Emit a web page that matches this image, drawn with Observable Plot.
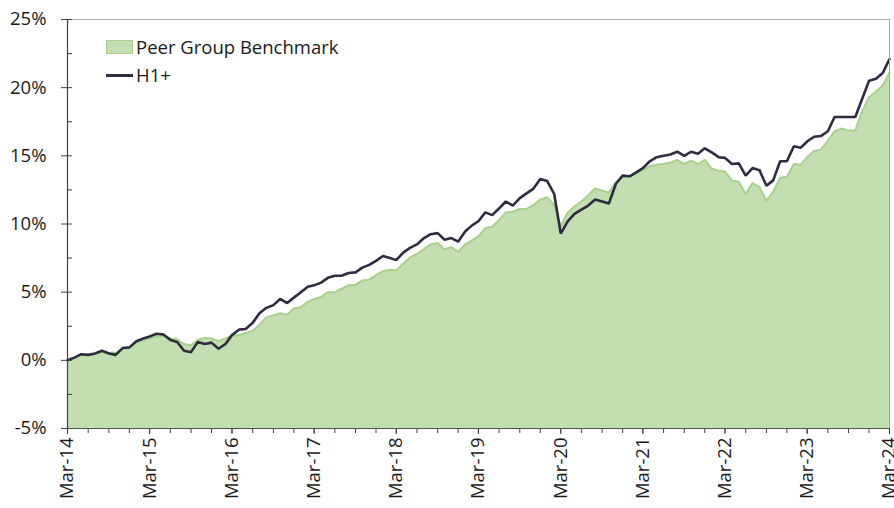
<!DOCTYPE html>
<html>
<head>
<meta charset="utf-8">
<script src="https://cdn.jsdelivr.net/npm/d3@7"></script>
<script src="https://cdn.jsdelivr.net/npm/@observablehq/plot@0.6"></script>
<style>
  html, body { margin: 0; padding: 0; background: #fff; }
  #wrap { position: relative; width: 894px; height: 508px; font-family: "Open Sans", sans-serif; color: #1a1a1a; }
  #legend { position: absolute; left: 106px; top: 33px; font-size: 18.5px; line-height: 28px; }
  .item { display: flex; align-items: center; white-space: nowrap; }
  .sw-area { width: 25px; height: 12px; background: #c3deb0; border: 1px solid #a9d18e; margin-right: 3px; }
  .sw-line { width: 27px; height: 3px; background: #2e2d3f; margin-right: 3px; }
</style>
</head>
<body>
<div id="wrap">
  <div id="chart"></div>
  <div id="legend">
    <div class="item"><span class="sw-area"></span><span id="lab1"></span></div>
    <div class="item"><span class="sw-line"></span><span id="lab2"></span></div>
  </div>
</div>
<script>
const seriesNames = ["Peer Group Benchmark", "H1+"];
const startMonth = new Date(Date.UTC(2014, 2, 1)); // Mar-14
const endMonth = new Date(Date.UTC(2024, 2, 1));   // Mar-24

// H1+ cumulative return (%), monthly Mar-14 .. Mar-24
const h1 = [
  0.0, 0.2, 0.45, 0.4, 0.5, 0.7, 0.5, 0.4, 0.9, 0.95, 1.4, 1.6,
  1.75, 1.95, 1.9, 1.5, 1.35, 0.7, 0.6, 1.35, 1.2, 1.3, 0.85, 1.2,
  1.85, 2.25, 2.3, 2.75, 3.45, 3.85, 4.05, 4.5, 4.2, 4.6, 5.0, 5.4,
  5.5, 5.7, 6.05, 6.2, 6.2, 6.4, 6.45, 6.8, 7.0, 7.3, 7.65, 7.5,
  7.35, 7.9, 8.25, 8.5, 8.95, 9.25, 9.33, 8.85, 8.97, 8.7, 9.45, 9.9,
  10.2, 10.85, 10.65, 11.15, 11.65, 11.35, 11.9, 12.25, 12.6, 13.3, 13.15, 12.2,
  9.3, 10.2, 10.75, 11.05, 11.35, 11.8, 11.65, 11.5, 12.95, 13.55, 13.5, 13.8,
  14.1, 14.6, 14.9, 15.0, 15.1, 15.3, 15.0, 15.3, 15.15, 15.55, 15.25, 14.9,
  14.85, 14.4, 14.45, 13.55, 14.1, 13.95, 12.8, 13.2, 14.6, 14.6, 15.7, 15.6,
  16.05, 16.4, 16.45, 16.8, 17.85, 17.85, 17.85, 17.85, 19.2, 20.5, 20.65, 21.1,
  22.1
];

// Peer Group Benchmark cumulative return (%), monthly Mar-14 .. Mar-24
const bench = [
  0.0, 0.2, 0.4, 0.35, 0.45, 0.6, 0.55, 0.55, 0.85, 0.9, 1.3, 1.5,
  1.6, 1.75, 1.8, 1.6, 1.55, 1.2, 1.1, 1.5, 1.65, 1.6, 1.4, 1.6,
  1.8, 1.85, 2.0, 2.15, 2.6, 3.15, 3.3, 3.45, 3.35, 3.8, 3.9, 4.3,
  4.5, 4.65, 5.0, 5.0, 5.25, 5.5, 5.55, 5.85, 5.92, 6.25, 6.55, 6.65,
  6.6, 7.1, 7.55, 7.8, 8.15, 8.5, 8.6, 8.15, 8.3, 7.95, 8.5, 8.8,
  9.1, 9.7, 9.8, 10.3, 10.85, 10.9, 11.1, 11.1, 11.4, 11.8, 11.95, 11.4,
  9.8, 10.85, 11.3, 11.65, 12.1, 12.6, 12.45, 12.3, 13.05, 13.45, 13.5, 13.7,
  13.95, 14.25, 14.35, 14.4, 14.5, 14.7, 14.4, 14.65, 14.4, 14.7, 14.05, 13.9,
  13.85, 13.2, 13.1, 12.2, 13.0, 12.7, 11.7, 12.35, 13.4, 13.45, 14.4, 14.35,
  14.9, 15.35, 15.45, 16.1, 16.8, 17.0, 16.85, 16.85, 18.3, 19.3, 19.7, 20.2,
  21.1
];

const yDomain = [-5, 25];
const yMajorTicks = [-5, 0, 5, 10, 15, 20, 25];
const yMinorTicks = [-5, -2.5, 0, 2.5, 5, 7.5, 10, 12.5, 15, 17.5, 20, 22.5, 25];

const months = d3.utcMonth.range(startMonth, d3.utcMonth.offset(endMonth, 1));
const data = months.map((d, i) => ({date: d, h1: h1[i], bench: bench[i]}));
const xMajor = months.filter((d, i) => i % 12 === 0);
const xMinor = months.filter((d, i) => i % 3 === 0);

document.getElementById("lab1").textContent = seriesNames[0];
document.getElementById("lab2").textContent = seriesNames[1];

const W = 894, H = 508, mL = 67, mR = 5, mT = 19, mB = 80;
const plotW = W - mL - mR;

const fmt = d3.utcFormat("%b-%y");

const chart = Plot.plot({
  width: W,
  height: H,
  marginLeft: mL,
  marginRight: mR,
  marginTop: mT,
  marginBottom: mB,
  style: {fontFamily: "Open Sans, sans-serif", fontSize: "18.5px", color: "#1a1a1a", background: "#fff", overflow: "visible"},
  x: {type: "utc", domain: [startMonth, endMonth]},
  y: {domain: yDomain},
  marks: [
    Plot.areaY(data, {x: "date", y1: () => yDomain[0], y2: "bench", fill: "#c3deb0", curve: "linear"}),
    Plot.lineY(data, {x: "date", y: "bench", stroke: "#a9d18e", strokeWidth: 2}),
    Plot.lineY(data, {x: "date", y: "h1", stroke: "#2e2d3f", strokeWidth: 2.6, strokeLinejoin: "miter"}),
    // frame: top & right grey
    Plot.ruleY([yDomain[1]], {stroke: "#a6a6a6", strokeWidth: 1}),
    Plot.ruleX([endMonth], {stroke: "#a6a6a6", strokeWidth: 1}),
    // inner y ticks
    Plot.tickY(yMinorTicks, {y: d => d, stroke: "#404040", insetRight: plotW - 5}),
    // axes
    Plot.axisY(yMajorTicks, {anchor: "left", tickSize: 6, tickPadding: 15, tickFormat: d => d + "%", stroke: "#404040", label: null}),
    Plot.axisX(xMinor, {anchor: "bottom", tickSize: 5, tickFormat: () => "", stroke: "#404040", label: null}),
    Plot.axisX(xMajor, {anchor: "bottom", tickSize: 6, tickPadding: 3, tickRotate: -90, tickFormat: fmt, stroke: "#404040", label: null}),
    Plot.ruleX([startMonth], {stroke: "#404040", strokeWidth: 1.2}),
    Plot.ruleY([yDomain[0]], {stroke: "#4a5a40", strokeWidth: 1.2})
  ]
});
document.getElementById("chart").appendChild(chart);
</script>
</body>
</html>
